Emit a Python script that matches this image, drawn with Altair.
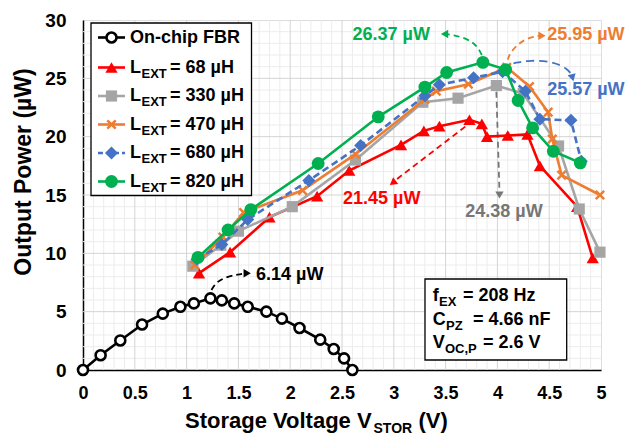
import altair as alt
import pandas as pd
import numpy as np

FONT = "Liberation Sans"

# ---------------- data ----------------
fbr_x = [0, 0.17, 0.36, 0.57, 0.77, 0.94, 1.07, 1.23, 1.34, 1.46, 1.59, 1.77, 1.92, 2.09, 2.29, 2.42, 2.52, 2.60]
fbr_y = [0, 1.27, 2.53, 3.9, 4.83, 5.42, 5.71, 6.14, 5.97, 5.71, 5.42, 5.0, 4.4, 3.6, 2.6, 1.8, 1.0, 0]

l68_x = [1.12, 1.42, 1.80, 2.26, 2.57, 3.07, 3.29, 3.44, 3.73, 3.85, 3.90, 4.10, 4.29, 4.41, 4.77, 4.92]
l68_y = [8.3, 10.1, 13.1, 14.9, 17.1, 19.3, 20.5, 20.9, 21.45, 21.1, 20.0, 20.1, 20.2, 17.5, 14.0, 9.6]

l330_x = [1.06, 1.33, 1.50, 2.02, 2.63, 3.28, 3.62, 3.99, 4.25, 4.59, 4.79, 4.99]
l330_y = [8.9, 10.7, 11.9, 14.0, 18.0, 22.95, 23.3, 24.38, 23.7, 19.2, 13.8, 10.1]

l470_x = [1.08, 1.35, 1.55, 2.12, 2.63, 3.30, 3.41, 3.72, 4.09, 4.31, 4.49, 4.53, 4.62, 4.99]
l470_y = [9.0, 11.4, 13.5, 15.4, 18.5, 23.2, 23.9, 24.5, 25.95, 24.3, 22.1, 19.8, 16.7, 15.0]

l680_x = [1.10, 1.34, 1.59, 2.18, 2.68, 3.30, 3.44, 3.77, 4.05, 4.27, 4.41, 4.71, 4.81]
l680_y = [9.5, 10.75, 12.9, 16.25, 19.25, 23.5, 24.45, 25.05, 25.57, 23.9, 21.5, 21.4, 17.9]

l820_x = [1.11, 1.40, 1.62, 2.27, 2.85, 3.30, 3.51, 3.86, 4.08, 4.20, 4.34, 4.54, 4.80]
l820_y = [9.65, 12.0, 13.75, 17.7, 21.7, 24.25, 25.5, 26.37, 25.75, 23.1, 20.75, 18.75, 17.75]

x_ticks = [0, 0.5, 1, 1.5, 2, 2.5, 3, 3.5, 4, 4.5, 5]
y_ticks = [0, 5, 10, 15, 20, 25, 30]

# annotation labels (text, x, y)
ann_text = ["26.37 µW", "25.95 µW", "25.57 µW", "21.45 µW", "24.38 µW", "6.14 µW"]
ann_x = [2.975, 4.48, 4.48, 2.51, 3.69, 1.67]
ann_y = [28.7, 28.7, 24.0, 14.7, 13.57, 8.14]
ann_color = ["#00B050", "#ED7D31", "#4472C4", "#FF0000", "#767676", "#000000"]

# arrows (dashed paths in data units) and their heads
arr_green_x = [3.85, 3.80, 3.70, 3.57, 3.50]
arr_green_y = [27.0, 27.86, 28.43, 28.71, 28.8]
arr_orange_x = [4.10, 4.12, 4.19, 4.28, 4.40]
arr_orange_y = [26.6, 27.15, 27.86, 28.43, 28.63]
arr_blue_x = [4.155, 4.31, 4.54, 4.67, 4.72]
arr_blue_y = [26.29, 26.57, 26.43, 25.86, 25.28]
arr_red_x = [3.69, 3.02]
arr_red_y = [20.86, 16.3]
arr_gray_x = [3.99, 4.02]
arr_gray_y = [23.85, 15.3]
arr_black_x = [1.24, 1.29, 1.39, 1.50, 1.565]
arr_black_y = [6.86, 7.57, 8.0, 8.2, 8.29]

head_x = [3.49, 4.43, 4.725, 2.99, 4.02, 1.585]
head_y = [28.8, 28.65, 25.05, 16.05, 15.0, 8.29]
head_angle = [270, 90, 165, 233, 180, 90]
head_color = ["#00B050", "#ED7D31", "#4472C4", "#FF0000", "#767676", "#000000"]

# ---------------- scales / axes ----------------
xs = alt.Scale(domain=[0, 5], nice=False, zero=False)
ys = alt.Scale(domain=[0, 30], nice=False, zero=False)

x_axis = alt.Axis(values=x_ticks, format=".1~f", title=None, grid=False, ticks=False,
                  labelFont=FONT, labelFontWeight="bold", labelFontSize=18,
                  labelColor="#000", labelPadding=14, domainColor="#000",
                  domainWidth=1.5, labelFlush=False)
y_axis = alt.Axis(values=y_ticks, title=None, grid=False, ticks=False,
                  labelFont=FONT, labelFontWeight="bold", labelFontSize=19,
                  labelColor="#000", labelPadding=17, domainColor="#000",
                  domainWidth=1.5, labelFlush=False)


def X(field="x"):
    return alt.X(f"{field}:Q", scale=xs, axis=x_axis)


def Y(field="y"):
    return alt.Y(f"{field}:Q", scale=ys, axis=y_axis)


def one():
    return alt.Data(values=[{"a": 1}])


layers = []

# axis carrier layer first
layers.append(alt.Chart(pd.DataFrame({"x": [0], "y": [0]})).mark_point(opacity=0).encode(x=X(), y=Y()))

# grid (inner lines only so the frame stays black)
minor_x = [round(v, 2) for v in np.arange(0, 5.001, 0.1) if round(v * 10) % 5 != 0]
minor_y = [v for v in range(0, 31) if v % 5 != 0]
major_x = x_ticks[1:-1]
major_y = y_ticks[1:-1]
layers.append(alt.Chart(pd.DataFrame({"x": minor_x})).mark_rule(color="#ececec", strokeWidth=1).encode(x=X()))
layers.append(alt.Chart(pd.DataFrame({"y": minor_y})).mark_rule(color="#ececec", strokeWidth=1).encode(y=Y()))
layers.append(alt.Chart(pd.DataFrame({"x": major_x})).mark_rule(color="#d4d4d4", strokeWidth=1).encode(x=X()))
layers.append(alt.Chart(pd.DataFrame({"y": major_y})).mark_rule(color="#d4d4d4", strokeWidth=1).encode(y=Y()))

# arrows
for ax_, ay_, col, dash in [
    (arr_green_x, arr_green_y, "#00B050", [6, 4]),
    (arr_orange_x, arr_orange_y, "#ED7D31", [6, 4]),
    (arr_blue_x, arr_blue_y, "#4472C4", [8, 5]),
    (arr_red_x, arr_red_y, "#FF0000", [6, 4]),
    (arr_gray_x, arr_gray_y, "#767676", [6, 4]),
    (arr_black_x, arr_black_y, "#000000", [6, 4]),
]:
    df = pd.DataFrame({"x": ax_, "y": ay_, "o": list(range(len(ax_)))})
    layers.append(alt.Chart(df).mark_line(color=col, strokeWidth=1.8, strokeDash=dash, interpolate="basis").encode(
        x=X(), y=Y(), order="o:Q"))

for hx, hy, ha, hc in zip(head_x, head_y, head_angle, head_color):
    layers.append(alt.Chart(pd.DataFrame({"x": [hx], "y": [hy]})).mark_point(
        shape="triangle-up", filled=True, size=70, angle=ha, color=hc, opacity=1).encode(x=X(), y=Y()))

# series
XPATH = "M-1,-1L1,1M-1,1L1,-1"
series = [
    (fbr_x, fbr_y, "#000000", None, dict(shape="circle", filled=True, fill="white", stroke="#000000", strokeWidth=2.6, size=100)),
    (l68_x, l68_y, "#FF0000", None, dict(shape="triangle-up", filled=True, color="#FF0000", size=150)),
    (l330_x, l330_y, "#A5A5A5", None, dict(shape="square", filled=True, color="#A5A5A5", size=125)),
    (l470_x, l470_y, "#ED7D31", None, dict(shape=XPATH, filled=False, color="#ED7D31", strokeWidth=2.5, size=70)),
    (l680_x, l680_y, "#4472C4", [7, 4], dict(shape="diamond", filled=True, color="#4472C4", size=170)),
    (l820_x, l820_y, "#00B050", None, dict(shape="circle", filled=True, color="#00B050", size=165)),
]
for sx, sy, col, dash, pt in series:
    df = pd.DataFrame({"x": sx, "y": sy, "o": list(range(len(sx)))})
    line_kw = dict(color=col, strokeWidth=2.6)
    if dash:
        line_kw["strokeDash"] = dash
    layers.append(alt.Chart(df).mark_line(**line_kw).encode(x=X(), y=Y(), order="o:Q"))
    layers.append(alt.Chart(df).mark_point(opacity=1, **pt).encode(x=X(), y=Y()))

# annotation texts
for t, tx, ty, tc in zip(ann_text, ann_x, ann_y, ann_color):
    align = "center" if t == "26.37 µW" else "left"
    layers.append(alt.Chart(pd.DataFrame({"x": [tx], "y": [ty], "t": [t]})).mark_text(
        font=FONT, fontWeight="bold", fontSize=18, color=tc, align=align, baseline="middle").encode(
        x=X(), y=Y(), text="t:N"))

# ---------------- legend (pixel positions) ----------------
leg_main = ["On-chip FBR", "L", "L", "L", "L", "L"]
leg_sub = ["", "EXT", "EXT", "EXT", "EXT", "EXT"]
leg_rest = ["", "= 68 µH", "= 330 µH", "= 470 µH", "= 680 µH", "= 820 µH"]
leg_y = [17.5, 47.5, 76, 104.5, 133, 161.5]

layers.append(alt.Chart(one()).mark_rect(fill="white", stroke="#000", strokeWidth=1.3).encode(
    x=alt.value(8), x2=alt.value(168.5), y=alt.value(3), y2=alt.value(175.5)))
for i, (sx, sy, col, dash, pt) in enumerate(series):
    yy = leg_y[i]
    rk = dict(color=col, strokeWidth=2.6)
    if dash:
        rk["strokeDash"] = [5, 3]
    layers.append(alt.Chart(one()).mark_rule(**rk).encode(
        x=alt.value(15), x2=alt.value(42), y=alt.value(yy)))
    layers.append(alt.Chart(one()).mark_point(opacity=1, **pt).encode(x=alt.value(28.5), y=alt.value(yy)))
    layers.append(alt.Chart(one()).mark_text(font=FONT, fontWeight="bold", fontSize=18, align="left",
                                             baseline="middle", color="#000", text=leg_main[i]).encode(
        x=alt.value(47), y=alt.value(yy)))
    if leg_sub[i]:
        layers.append(alt.Chart(one()).mark_text(font=FONT, fontWeight="bold", fontSize=13, align="left",
                                                 baseline="middle", color="#000", text=leg_sub[i]).encode(
            x=alt.value(58.5), y=alt.value(yy + 6)))
        layers.append(alt.Chart(one()).mark_text(font=FONT, fontWeight="bold", fontSize=18, align="left",
                                                 baseline="middle", color="#000", text=leg_rest[i]).encode(
            x=alt.value(87), y=alt.value(yy)))

# ---------------- info box ----------------
info_main = ["f", "C", "V"]
info_sub = ["EX", "PZ", "OC,P"]
info_rest = ["= 208 Hz", "= 4.66 nF", "= 2.6 V"]
info_sub_x = [356, 363, 362]
info_rest_x = [380, 390, 400]
info_y = [275.7, 300, 323.3]
layers.append(alt.Chart(one()).mark_rect(fill="white", stroke="#000", strokeWidth=1.3).encode(
    x=alt.value(342), x2=alt.value(483.7), y=alt.value(259), y2=alt.value(340)))
for m, s, r, sxp, rxp, yy in zip(info_main, info_sub, info_rest, info_sub_x, info_rest_x, info_y):
    layers.append(alt.Chart(one()).mark_text(font=FONT, fontWeight="bold", fontSize=18, align="left",
                                             baseline="middle", color="#000", text=m).encode(
        x=alt.value(349.7), y=alt.value(yy)))
    layers.append(alt.Chart(one()).mark_text(font=FONT, fontWeight="bold", fontSize=13, align="left",
                                             baseline="middle", color="#000", text=s).encode(
        x=alt.value(sxp), y=alt.value(yy + 6)))
    layers.append(alt.Chart(one()).mark_text(font=FONT, fontWeight="bold", fontSize=18, align="left",
                                             baseline="middle", color="#000", text=r).encode(
        x=alt.value(rxp), y=alt.value(yy)))

# ---------------- axis titles ----------------
layers.append(alt.Chart(one()).mark_text(font=FONT, fontWeight="bold", fontSize=22, align="left",
                                         baseline="alphabetic", color="#000", text="Storage Voltage V").encode(
    x=alt.value(102), y=alt.value(408)))
layers.append(alt.Chart(one()).mark_text(font=FONT, fontWeight="bold", fontSize=14, align="left",
                                         baseline="alphabetic", color="#000", text="STOR").encode(
    x=alt.value(290.5), y=alt.value(413)))
layers.append(alt.Chart(one()).mark_text(font=FONT, fontWeight="bold", fontSize=22, align="left",
                                         baseline="alphabetic", color="#000", text="(V)").encode(
    x=alt.value(335.5), y=alt.value(408)))
layers.append(alt.Chart(one()).mark_text(font=FONT, fontWeight="bold", fontSize=23, align="center",
                                         baseline="middle", angle=270, color="#000", text="Output Power (µW)").encode(
    x=alt.value(-59), y=alt.value(152)))

chart = alt.layer(*layers).properties(
    width=518, height=350,
    autosize=alt.AutoSizeParams(type="none"),
    padding={"left": 75, "top": 12, "right": 25, "bottom": 67},
).configure_view(stroke="#000", strokeWidth=1.5).configure(background="white")

chart.save("out.html", embed_options={"renderer": "svg", "actions": False})
